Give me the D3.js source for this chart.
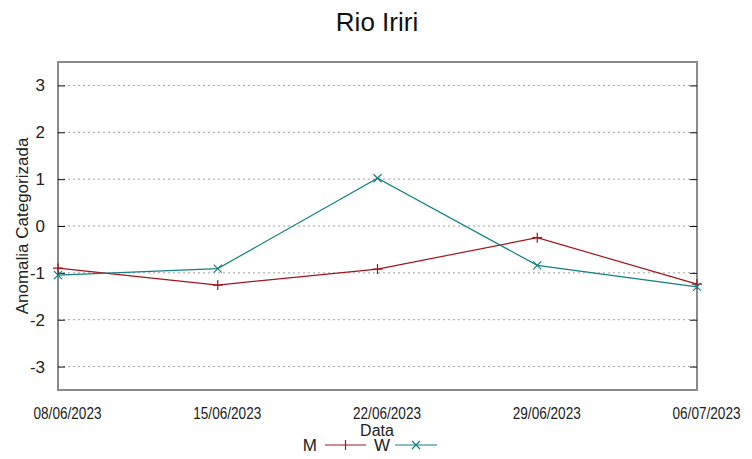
<!DOCTYPE html>
<html><head><meta charset="utf-8">
<script src="https://cdn.jsdelivr.net/npm/d3@7"></script>
<style>body{margin:0;background:#fff}svg{display:block}</style>
</head><body><svg id="c" width="752" height="459"></svg>
<script>
const dates = ["08/06/2023","15/06/2023","22/06/2023","29/06/2023","06/07/2023"];
const mValues = [-0.90,-1.26,-0.92,-0.25,-1.24];
const wValues = [-1.05,-0.91,1.02,-0.84,-1.30];
const yTicks = [-3,-2,-1,0,1,2,3];
const seriesNames = ["M","W"];

const svg = d3.select("#c");
const L=58,R=697,T=62,B=390;
const x = d3.scalePoint().domain(dates).range([L,R]);
const y = d3.scaleLinear().domain([-3.5,3.5]).range([B,T]);
const font = "'Liberation Sans', Arial, sans-serif";

// grid
svg.append("g").selectAll("line").data(yTicks).join("line")
  .attr("x1",L).attr("x2",R).attr("y1",d=>y(d)).attr("y2",d=>y(d))
  .attr("stroke","#a0a0a0").attr("stroke-width",1).attr("stroke-dasharray","2,3");

// frame
svg.append("rect").attr("x",L).attr("y",T).attr("width",R-L).attr("height",B-T)
  .attr("fill","none").attr("stroke","#8a8a8a").attr("stroke-width",2);

// y axis
const ya = svg.append("g").attr("transform",`translate(${L},0)`)
  .call(d3.axisLeft(y).tickValues(yTicks).tickSize(-7).tickPadding(13).tickFormat(d=>String(d)));
ya.select(".domain").remove();
ya.selectAll("line").attr("stroke","#111");
ya.selectAll("text").attr("font-family",font).attr("font-size",17).attr("fill","#222");
const yr = svg.append("g").attr("transform",`translate(${R},0)`)
  .call(d3.axisRight(y).tickValues(yTicks).tickSize(-7).tickFormat(""));
yr.select(".domain").remove();
yr.selectAll("line").attr("stroke","#111");

// x axis labels
const xa = svg.append("g").attr("transform",`translate(0,${B})`)
  .call(d3.axisBottom(x).tickSize(0).tickPadding(17));
xa.select(".domain").remove();
xa.selectAll("text").attr("font-family",font).attr("font-size",16).attr("fill","#222")
  .attr("dy","0").attr("y",29).attr("x",9)
  .attr("textLength",68).attr("lengthAdjust","spacingAndGlyphs");

// titles
svg.append("text").attr("x",377).attr("y",31).attr("text-anchor","middle")
  .attr("font-family",font).attr("font-size",26).attr("fill","#111").text("Rio Iriri");
svg.append("text").attr("x",377).attr("y",436).attr("text-anchor","middle")
  .attr("font-family",font).attr("font-size",16).attr("fill","#222").text("Data");
svg.append("text").attr("transform",`translate(28,${(T+B)/2}) rotate(-90)`).attr("text-anchor","middle")
  .attr("font-family",font).attr("font-size",17).attr("fill","#222").text("Anomalia Categorizada");

const colors = ["#a3141c","#128080"];
const data = [mValues,wValues];
const line = d3.line().x((d,i)=>x(dates[i])).y(d=>y(d));
data.forEach((vals,k)=>{
  svg.append("path").datum(vals).attr("d",line).attr("fill","none")
    .attr("stroke",colors[k]).attr("stroke-width",1.2);
  const g = svg.append("g");
  vals.forEach((v,i)=>{
    const cx=x(dates[i]), cy=y(v), s=5;
    if(k===0){
      g.append("path").attr("d",`M${cx-s},${cy}H${cx+s}M${cx},${cy-s}V${cy+s}`).attr("stroke",colors[k]).attr("stroke-width",1.2);
    } else {
      g.append("path").attr("d",`M${cx-4},${cy-4}L${cx+4},${cy+4}M${cx-4},${cy+4}L${cx+4},${cy-4}`).attr("stroke",colors[k]).attr("stroke-width",1.2);
    }
  });
});

// legend
const ly = 445;
const legX = [{t:317,l0:325,l1:366},{t:390,l0:395,l1:437}];
seriesNames.forEach((n,k)=>{
  svg.append("text").attr("x",legX[k].t).attr("y",ly+6).attr("text-anchor","end")
    .attr("font-family",font).attr("font-size",17).attr("fill","#222").text(n);
  svg.append("line").attr("x1",legX[k].l0).attr("x2",legX[k].l1).attr("y1",ly).attr("y2",ly)
    .attr("stroke",colors[k]).attr("stroke-width",1.2);
  const cx=(legX[k].l0+legX[k].l1)/2;
  if(k===0) svg.append("path").attr("d",`M${cx},${ly-5}V${ly+5}`).attr("stroke",colors[k]).attr("stroke-width",1.2);
  else svg.append("path").attr("d",`M${cx-4},${ly-4}L${cx+4},${ly+4}M${cx-4},${ly+4}L${cx+4},${ly-4}`).attr("stroke",colors[k]).attr("stroke-width",1.2);
});
</script></body></html>
